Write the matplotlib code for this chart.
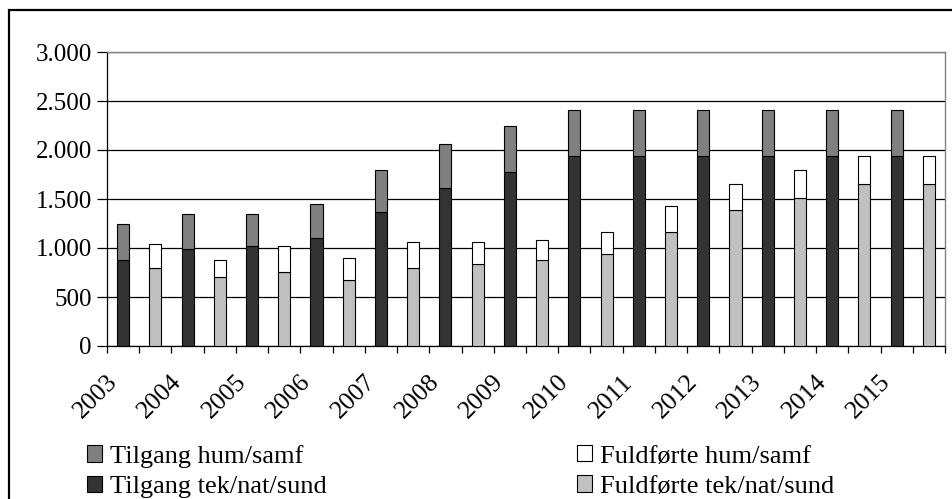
import matplotlib
matplotlib.use("Agg")
import matplotlib.pyplot as plt
from matplotlib.patches import Patch, Rectangle
from matplotlib.ticker import FuncFormatter, FixedLocator
import numpy as np

plt.rcParams['font.family'] = ['Liberation Serif', 'DejaVu Serif']

years = ["2003", "2004", "2005", "2006", "2007", "2008", "2009",
         "2010", "2011", "2012", "2013", "2014", "2015"]
tilgang_tek = [880, 985, 1020, 1100, 1370, 1615, 1775, 1940, 1940, 1940, 1940, 1940, 1940]
tilgang_hum = [370, 365, 330, 350, 430, 445, 470, 470, 470, 470, 470, 470, 470]
fuldfoerte_tek = [800, 700, 760, 675, 800, 840, 880, 940, 1165, 1390, 1510, 1655, 1655]
fuldfoerte_hum = [240, 180, 260, 225, 260, 220, 205, 225, 265, 265, 285, 285, 285]

c_tilg_hum = "#808080"
c_tilg_tek = "#333333"
c_fuld_hum = "#ffffff"
c_fuld_tek = "#c0c0c0"

fig = plt.figure(figsize=(9.52, 4.99), dpi=100)
ax = fig.add_axes([107/952, 1-346/499, (945-107)/952, (346-52)/499])

n = len(years)
x_t = np.arange(n) * 2
x_f = np.arange(n) * 2 + 1
w = 0.375
ekw = dict(edgecolor="black", linewidth=0.8, zorder=3)
ax.bar(x_t, tilgang_tek, w, color=c_tilg_tek, **ekw)
ax.bar(x_t, tilgang_hum, w, bottom=tilgang_tek, color=c_tilg_hum, **ekw)
ax.bar(x_f, fuldfoerte_tek, w, color=c_fuld_tek, **ekw)
ax.bar(x_f, fuldfoerte_hum, w, bottom=fuldfoerte_tek, color=c_fuld_hum, **ekw)

ax.set_xlim(-0.5, 2 * n - 0.5)
ax.set_ylim(0, 3000)
ax.set_yticks(np.arange(0, 3001, 500))
ax.yaxis.set_major_formatter(FuncFormatter(lambda v, p: f"{int(v):,}".replace(",", ".")))
ax.yaxis.grid(True, color="black", linewidth=0.9, zorder=0)
ax.set_axisbelow(True)

ax.xaxis.set_major_locator(FixedLocator(np.arange(0, 2 * n + 1) - 0.5))
ax.xaxis.set_major_formatter(FuncFormatter(lambda v, p: ""))
ax.xaxis.set_minor_locator(FixedLocator(x_t - 0.05))
ax.set_xticklabels(years, minor=True, rotation=45, ha="right", va="top")
ax.tick_params(axis="x", which="major", direction="out", length=5, width=0.9, color="black")
ax.tick_params(axis="x", which="minor", length=0, pad=18, labelsize=18.5)
ax.tick_params(axis="y", direction="out", length=7, width=0.9, pad=4, labelsize=18)

for s in ["top", "right"]:
    ax.spines[s].set_color("#808080")
    ax.spines[s].set_linewidth(1.0)
for s in ["left", "bottom"]:
    ax.spines[s].set_color("black")
    ax.spines[s].set_linewidth(0.9)

# outer chart frame
fig.patches.append(Rectangle((9/952, -0.1), 1.2, 1.1 - 10/499, transform=fig.transFigure,
                             fill=False, edgecolor="black", linewidth=1.6, zorder=10))

leg_kw = dict(frameon=False, fontsize=19, handlelength=0.58, handleheight=0.58,
              handletextpad=0.3, labelspacing=0.3, borderpad=0, borderaxespad=0)
h1 = [Patch(facecolor=c_tilg_hum, edgecolor="black", linewidth=0.8),
      Patch(facecolor=c_tilg_tek, edgecolor="black", linewidth=0.8)]
h2 = [Patch(facecolor=c_fuld_hum, edgecolor="black", linewidth=0.8),
      Patch(facecolor=c_fuld_tek, edgecolor="black", linewidth=0.8)]
fig.legend(h1, ["Tilgang hum/samf", "Tilgang tek/nat/sund"], loc="upper left",
           bbox_to_anchor=(87/952, 1-445/499), **leg_kw)
fig.legend(h2, ["Fuldførte hum/samf", "Fuldførte tek/nat/sund"], loc="upper left",
           bbox_to_anchor=(577/952, 1-445/499), **leg_kw)

fig.savefig("out.png", dpi=100)
